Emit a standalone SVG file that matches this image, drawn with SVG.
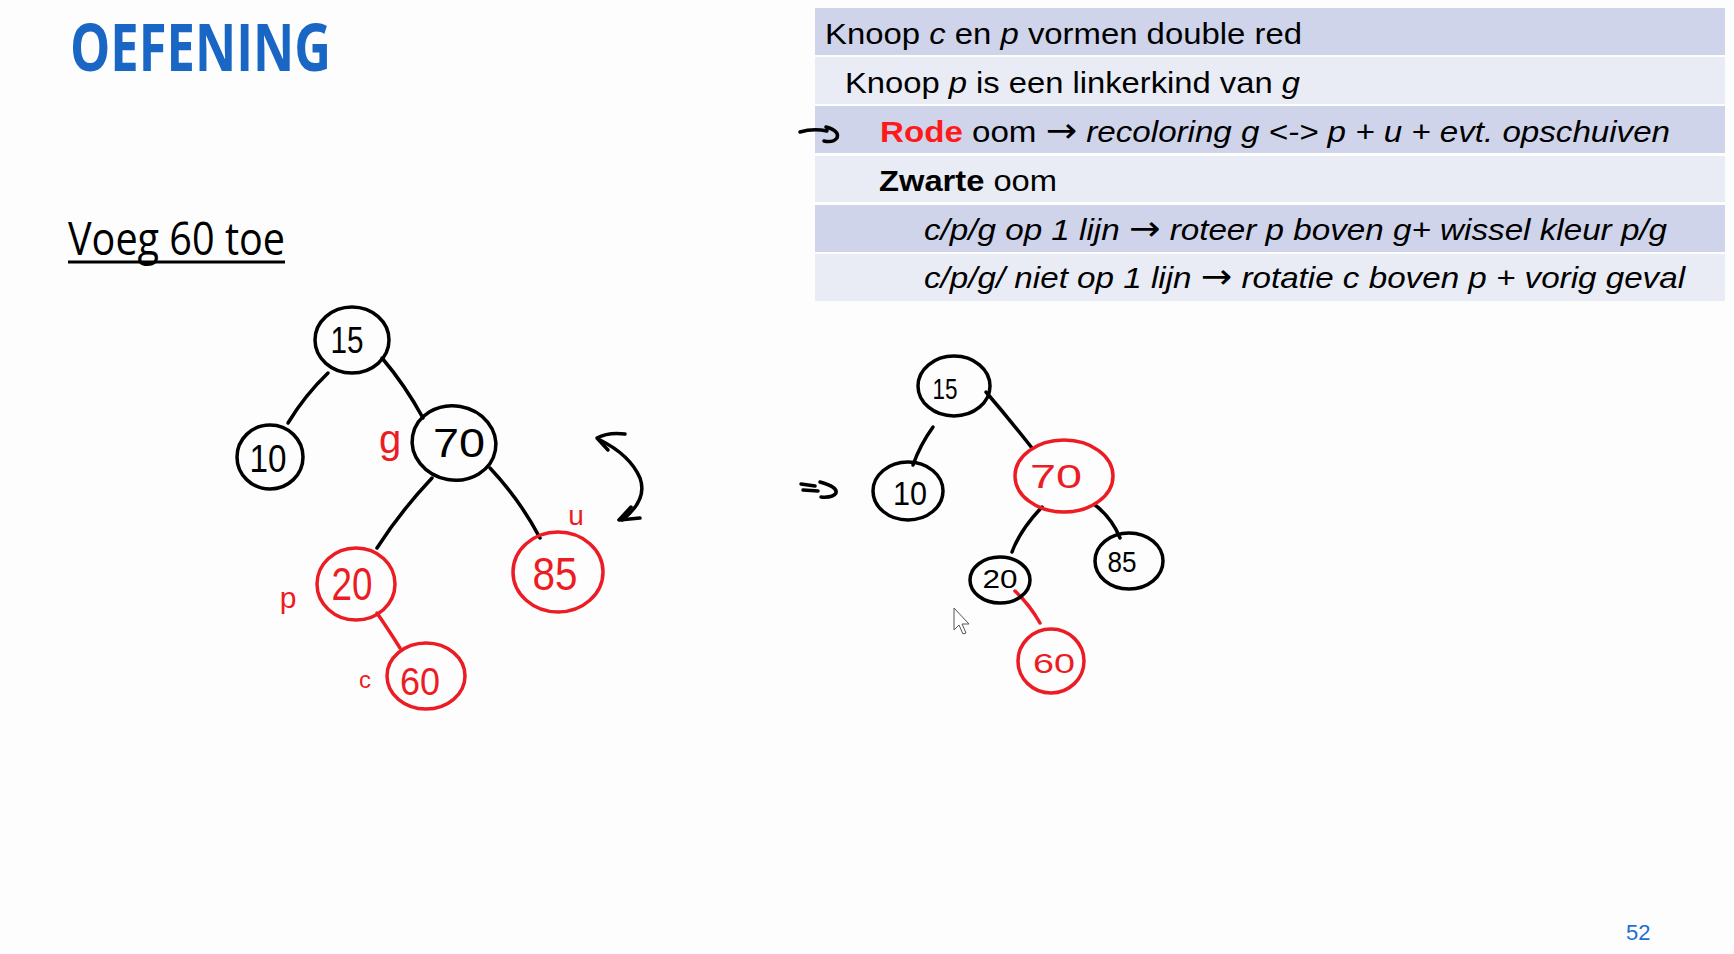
<svg xmlns="http://www.w3.org/2000/svg" width="1734" height="954" viewBox="0 0 1734 954">
<defs>
<style>
.bg{fill:#fdfdfd}
.title{font-family:"Open Sans","Liberation Sans",sans-serif;font-weight:700;fill:#1a66c4}
.sub{font-family:"Open Sans","Liberation Sans",sans-serif;fill:#000}
.rowd{fill:#cfd4ea}
.rowl{fill:#e9ebf5}
.tt{font-family:"Liberation Sans",Arial,sans-serif;font-size:30px;fill:#000}
.it{font-style:italic}
.bd{font-weight:700}
.rd{fill:#ff1a1a}
.ar{font-family:"DejaVu Sans",sans-serif;font-size:34px;font-style:normal}
.nb{fill:none;stroke:#000;stroke-width:3.5;stroke-linecap:round}
.nr{fill:none;stroke:#ec1c24;stroke-width:3.5;stroke-linecap:round}
.lb{font-family:"Liberation Sans",Arial,sans-serif;fill:#000;text-anchor:middle}
.lr{font-family:"Liberation Sans",Arial,sans-serif;fill:#ec1c24;text-anchor:middle}
.eb{fill:none;stroke:#000;stroke-width:3.5;stroke-linecap:round;stroke-linejoin:round}
.er{fill:none;stroke:#ec1c24;stroke-width:3.5;stroke-linecap:round}
.pg{font-family:"Liberation Sans",Arial,sans-serif;font-size:22px;fill:#1f6fd0}
</style>
</defs>
<rect class="bg" x="0" y="0" width="1734" height="954"/>

<g id="title">
<text class="title" x="70" y="71" font-size="67" textLength="261" lengthAdjust="spacingAndGlyphs">OEFENING</text>
</g>
<g id="subtitle">
<text class="sub" x="68" y="255" font-size="46" textLength="217" lengthAdjust="spacingAndGlyphs">Voeg 60 toe</text>
<rect x="68" y="260.5" width="217" height="3" fill="#000"/>
</g>

<g id="table">
<rect class="rowd" x="815" y="8" width="910" height="47"/>
<rect class="rowl" x="815" y="57" width="910" height="47"/>
<rect class="rowd" x="815" y="106" width="910" height="47"/>
<rect class="rowl" x="815" y="156" width="910" height="46"/>
<rect class="rowd" x="815" y="205" width="910" height="47"/>
<rect class="rowl" x="815" y="254" width="910" height="47"/>
<text class="tt" transform="translate(825,44) scale(1.09,1)" x="0" y="0" textLength="437.6" lengthAdjust="spacingAndGlyphs">Knoop <tspan class="it">c</tspan> en <tspan class="it">p</tspan> vormen double red</text>
<text class="tt" transform="translate(845,93) scale(1.09,1)" x="0" y="0" textLength="417.4" lengthAdjust="spacingAndGlyphs">Knoop <tspan class="it">p</tspan> is een linkerkind van <tspan class="it">g</tspan></text>
<text class="tt" transform="translate(880,142) scale(1.09,1)" x="0" y="0" textLength="724.8" lengthAdjust="spacingAndGlyphs"><tspan class="bd rd">Rode</tspan> oom <tspan class="ar">→</tspan> <tspan class="it">recoloring g &lt;-&gt; p + u + evt. opschuiven</tspan></text>
<text class="tt" transform="translate(879,191) scale(1.09,1)" x="0" y="0" textLength="163.3" lengthAdjust="spacingAndGlyphs"><tspan class="bd">Zwarte</tspan> oom</text>
<text class="tt" transform="translate(924,240) scale(1.09,1)" x="0" y="0" textLength="681.7" lengthAdjust="spacingAndGlyphs"><tspan class="it">c/p/g op 1 lijn </tspan><tspan class="ar">→</tspan> <tspan class="it">roteer p boven g+ wissel kleur p/g</tspan></text>
<text class="tt" transform="translate(924,288) scale(1.09,1)" x="0" y="0" textLength="698.2" lengthAdjust="spacingAndGlyphs"><tspan class="it">c/p/g/ niet op 1 lijn </tspan><tspan class="ar">→</tspan> <tspan class="it">rotatie c boven p + vorig geval</tspan></text>
</g>

<g id="connectors">
<path class="eb" d="M328,373 Q305,395 288,423"/>
<path class="eb" d="M382,358 Q405,385 423,418"/>
<path class="eb" d="M432,478 Q400,512 377,548"/>
<path class="eb" d="M490,468 Q520,500 540,538"/>
<path class="er" d="M377,613 Q390,632 400,648"/>
<path class="eb" d="M600,440 Q630,455 640,478 Q648,500 622,520"/>
<path class="eb" d="M625,434 Q608,432 597,438 L608,450"/>
<path class="eb" d="M631,507 L619,520 L640,518"/>
<path class="eb" d="M933,427 Q920,445 913,465"/>
<path class="eb" d="M986,392 Q1010,420 1032,448"/>
<path class="eb" d="M1042,507 Q1020,530 1012,552"/>
<path class="eb" d="M1095,505 Q1112,518 1120,538"/>
<path class="er" d="M1015,591 Q1030,605 1040,623"/>
<path class="eb" stroke-width="2.5" d="M800,132 Q813,128 827,131 M826,127 Q840,131 837,138 Q833,143 824,141"/>
<path class="eb" stroke-width="2.5" d="M801,484 L815,486 M803,490 L818,491 M820,482 Q838,487 836,493 Q833,498 821,497"/>
</g>

<g id="node-15-left"><ellipse class="nb" cx="352" cy="340" rx="37" ry="33"/><text class="lb" x="347" y="353" font-size="36" textLength="33" lengthAdjust="spacingAndGlyphs">15</text></g>
<g id="node-10-left"><ellipse class="nb" cx="270" cy="457" rx="33" ry="32"/><text class="lb" x="268" y="472" font-size="38" textLength="37" lengthAdjust="spacingAndGlyphs">10</text></g>
<g id="node-70-left"><ellipse class="nb" cx="454" cy="443" rx="42" ry="37" transform="rotate(10 454 443)"/><text class="lb" x="459" y="457" font-size="40" textLength="52" lengthAdjust="spacingAndGlyphs">70</text></g>
<g id="node-20-left"><ellipse class="nr" cx="356" cy="584" rx="39" ry="36"/><text class="lr" x="352" y="600" font-size="46" textLength="41" lengthAdjust="spacingAndGlyphs">20</text></g>
<g id="node-85-left"><ellipse class="nr" cx="558" cy="572" rx="45" ry="40"/><text class="lr" x="555" y="590" font-size="46" textLength="45" lengthAdjust="spacingAndGlyphs">85</text></g>
<g id="node-60-left"><ellipse class="nr" cx="426" cy="676" rx="39" ry="33"/><text class="lr" x="420" y="695" font-size="38" textLength="40" lengthAdjust="spacingAndGlyphs">60</text></g>

<g id="labels">
<text class="lr" x="390" y="453" font-size="40">g</text>
<text class="lr" x="288" y="608" font-size="30">p</text>
<text class="lr" x="365" y="688" font-size="24">c</text>
<text class="lr" x="576" y="525" font-size="28">u</text>
</g>

<g id="node-15-right"><ellipse class="nb" cx="954" cy="386" rx="36" ry="30"/><text class="lb" x="945" y="399" font-size="30" textLength="25" lengthAdjust="spacingAndGlyphs">15</text></g>
<g id="node-10-right"><ellipse class="nb" cx="908" cy="491" rx="35" ry="29"/><text class="lb" x="910" y="505" font-size="34" textLength="34" lengthAdjust="spacingAndGlyphs">10</text></g>
<g id="node-70-right"><ellipse class="nr" cx="1064" cy="476" rx="49" ry="36"/><text class="lr" x="1056" y="488" font-size="34" textLength="52" lengthAdjust="spacingAndGlyphs">70</text></g>
<g id="node-20-right"><ellipse class="nb" cx="1000" cy="580" rx="30" ry="23"/><text class="lb" x="1000" y="588" font-size="26" textLength="35" lengthAdjust="spacingAndGlyphs">20</text></g>
<g id="node-85-right"><ellipse class="nb" cx="1129" cy="561" rx="34" ry="28"/><text class="lb" x="1122" y="572" font-size="30" textLength="29" lengthAdjust="spacingAndGlyphs">85</text></g>
<g id="node-60-right"><ellipse class="nr" cx="1051" cy="661" rx="33" ry="32"/><text class="lr" x="1054" y="673" font-size="28" textLength="42" lengthAdjust="spacingAndGlyphs">60</text></g>

<g id="cursor">
<polygon points="954,608 954,630 959,625 963,634 966,633 962,624 969,624" fill="#fff" stroke="#555" stroke-width="1"/>
</g>

<g id="page-number"><text class="pg" x="1626" y="940">52</text></g>
</svg>
